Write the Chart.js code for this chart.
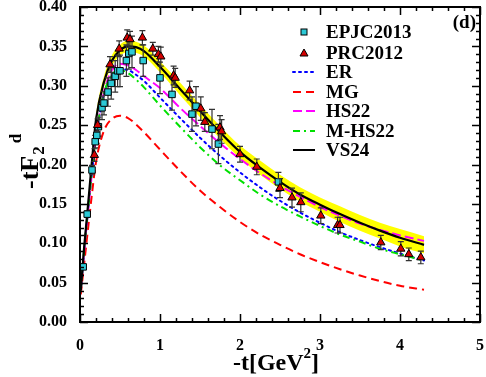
<!DOCTYPE html>
<html>
<head>
<meta charset="utf-8">
<script src="https://cdn.jsdelivr.net/npm/chart.js@4.4.8/dist/chart.umd.min.js"></script>
<style>
  html, body { margin: 0; padding: 0; background: #fff; }
  #chart { display: block; }
</style>
</head>
<body>
<canvas id="chart" width="486" height="377"></canvas>
<script>
const FONT = "'Liberation Serif', 'Times New Roman', serif";

// measured points, EPJC2013
const epjcT   = [0.04, 0.09, 0.15, 0.19, 0.21, 0.23, 0.275, 0.30, 0.35, 0.39, 0.44, 0.47, 0.50, 0.58, 0.61, 0.65, 0.79, 1.00, 1.15, 1.40, 1.45, 1.65, 1.73, 2.48];
const epjcF   = [0.070, 0.137, 0.193, 0.229, 0.237, 0.248, 0.272, 0.278, 0.292, 0.303, 0.312, 0.319, 0.319, 0.332, 0.341, 0.343, 0.332, 0.310, 0.289, 0.264, 0.274, 0.245, 0.226, 0.178];
const epjcErr = [0.003, 0.004, 0.006, 0.008, 0.010, 0.012, 0.015, 0.015, 0.018, 0.020, 0.020, 0.020, 0.020, 0.020, 0.020, 0.020, 0.020, 0.020, 0.020, 0.022, 0.025, 0.025, 0.025, 0.012];

// measured points, PRC2012
const prcT   = [0.18, 0.22, 0.375, 0.49, 0.59, 0.625, 0.78, 0.91, 0.98, 1.01, 1.17, 1.19, 1.37, 1.51, 1.56, 1.75, 1.77, 2.00, 2.21, 2.50, 2.65, 2.76, 3.01, 3.22, 3.25, 3.76, 4.01, 4.11, 4.26];
const prcF   = [0.212, 0.250, 0.327, 0.347, 0.361, 0.359, 0.361, 0.347, 0.340, 0.337, 0.313, 0.310, 0.294, 0.271, 0.254, 0.247, 0.242, 0.213, 0.197, 0.170, 0.158, 0.152, 0.135, 0.123, 0.123, 0.101, 0.093, 0.086, 0.082];
const prcErr = [0.008, 0.008, 0.010, 0.010, 0.010, 0.010, 0.009, 0.008, 0.010, 0.012, 0.012, 0.012, 0.012, 0.015, 0.012, 0.015, 0.015, 0.010, 0.010, 0.012, 0.012, 0.012, 0.010, 0.010, 0.010, 0.009, 0.009, 0.008, 0.008];

// model curves, all on the same t grid
const curveT = [0.01, 0.05, 0.1, 0.15, 0.2, 0.3, 0.4, 0.5, 0.6, 0.7, 0.8, 1.0, 1.25, 1.5, 1.75, 2.0, 2.25, 2.5, 2.75, 3.0, 3.25, 3.5, 3.75, 4.0, 4.3];
const erF    = [0.040, 0.088, 0.140, 0.190, 0.233, 0.290, 0.313, 0.321, 0.320, 0.314, 0.306, 0.285, 0.259, 0.234, 0.211, 0.190, 0.171, 0.154, 0.139, 0.126, 0.114, 0.104, 0.095, 0.087, 0.078];
const mgF    = [0.035, 0.072, 0.118, 0.163, 0.203, 0.243, 0.258, 0.262, 0.259, 0.251, 0.241, 0.219, 0.192, 0.167, 0.146, 0.127, 0.111, 0.098, 0.086, 0.076, 0.067, 0.059, 0.052, 0.046, 0.041];
const hs22F  = [0.040, 0.088, 0.140, 0.190, 0.235, 0.292, 0.320, 0.328, 0.326, 0.320, 0.312, 0.297, 0.272, 0.249, 0.227, 0.207, 0.189, 0.173, 0.159, 0.146, 0.135, 0.125, 0.117, 0.110, 0.103];
const mhs22F = [0.040, 0.090, 0.142, 0.192, 0.236, 0.290, 0.314, 0.320, 0.316, 0.308, 0.298, 0.275, 0.248, 0.222, 0.199, 0.180, 0.162, 0.147, 0.134, 0.122, 0.111, 0.102, 0.093, 0.086, 0.078];
const vs24F  = [0.040, 0.093, 0.148, 0.205, 0.257, 0.305, 0.332, 0.345, 0.350, 0.349, 0.344, 0.324, 0.296, 0.268, 0.241, 0.216, 0.196, 0.178, 0.162, 0.149, 0.137, 0.126, 0.116, 0.107, 0.098];
const vs24Hi = [0.043, 0.097, 0.153, 0.211, 0.263, 0.312, 0.339, 0.352, 0.357, 0.356, 0.351, 0.331, 0.304, 0.276, 0.249, 0.224, 0.205, 0.187, 0.171, 0.158, 0.147, 0.136, 0.126, 0.118, 0.109];
const vs24Lo = [0.037, 0.089, 0.143, 0.199, 0.251, 0.298, 0.325, 0.338, 0.343, 0.342, 0.337, 0.317, 0.288, 0.260, 0.233, 0.208, 0.187, 0.169, 0.153, 0.140, 0.127, 0.116, 0.106, 0.096, 0.087];

const xTicks = [0, 1, 2, 3, 4, 5];
const yTicks = [0, 0.05, 0.10, 0.15, 0.20, 0.25, 0.30, 0.35, 0.40];

function pts(xs, ys) {
  return xs.map((x, i) => ({ x, y: ys[i] }));
}

function curve(label, ys, color, dash, width = 2) {
  return {
    label,
    data: pts(curveT, ys),
    borderColor: color,
    borderWidth: width,
    borderDash: dash,
    pointRadius: 0,
    fill: false,
    cubicInterpolationMode: "monotone",
  };
}

function noOverhang(s) {
  s.paddingLeft = 0;
  s.paddingRight = 0;
  s.paddingTop = 0;
  s.paddingBottom = 0;
}

const CYAN = "#2cc9d6";
const RED_MARK = "#d40000";

const legendRows = [
  { label: "EPJC2013", kind: "rect", color: CYAN },
  { label: "PRC2012", kind: "triangle", color: RED_MARK },
  { label: "ER", kind: "line", color: "#0000ff", dash: [2, 4], cap: "round" },
  { label: "MG", kind: "line", color: "#ff0000", dash: [8, 5] },
  { label: "HS22", kind: "line", color: "#ff00ff", dash: [9, 4] },
  { label: "M-HS22", kind: "line", color: "#00e000", dash: [7, 4, 2, 4] },
  { label: "VS24", kind: "line", color: "#000000", dash: [] },
];

const errorBars = {
  id: "errorBars",
  beforeDatasetDraw(chart, args) {
    const ds = chart.data.datasets[args.index];
    if (!ds.errors) return;
    const { ctx, scales: { x, y } } = chart;
    ctx.save();
    ctx.strokeStyle = "#333";
    ctx.lineWidth = 1.2;
    ds.data.forEach((p, i) => {
      const px = x.getPixelForValue(p.x);
      const top = y.getPixelForValue(p.y + ds.errors[i]);
      const bot = y.getPixelForValue(p.y - ds.errors[i]);
      ctx.beginPath();
      ctx.moveTo(px, top); ctx.lineTo(px, bot);
      ctx.moveTo(px - 3, top); ctx.lineTo(px + 3, top);
      ctx.moveTo(px - 3, bot); ctx.lineTo(px + 3, bot);
      ctx.stroke();
    });
    ctx.restore();
  },
};

const frameAndDecor = {
  id: "frameAndDecor",
  afterDraw(chart) {
    const { ctx, chartArea: a, scales: { x, y } } = chart;
    ctx.save();
    ctx.strokeStyle = "#000";
    ctx.lineWidth = 1.5;

    // inward ticks on all four sides
    ctx.beginPath();
    for (let i = 0; i <= 25; i++) {
      const v = i * 0.2;
      const px = Math.round(x.getPixelForValue(v)) + 0.5;
      const len = i % 5 === 0 ? 8 : 4;
      ctx.moveTo(px, a.bottom); ctx.lineTo(px, a.bottom - len);
      ctx.moveTo(px, a.top); ctx.lineTo(px, a.top + len);
    }
    for (let i = 0; i <= 40; i++) {
      const v = i * 0.01;
      const py = Math.round(y.getPixelForValue(v)) + 0.5;
      const len = i % 5 === 0 ? 8 : 4;
      ctx.moveTo(a.left, py); ctx.lineTo(a.left + len, py);
      ctx.moveTo(a.right, py); ctx.lineTo(a.right - len, py);
    }
    ctx.stroke();

    ctx.lineWidth = 2;
    ctx.strokeRect(a.left, a.top, a.right - a.left, a.bottom - a.top);

    ctx.fillStyle = "#000";
    ctx.textBaseline = "alphabetic";

    // panel tag
    ctx.font = `bold 19px ${FONT}`;
    ctx.textAlign = "right";
    ctx.fillText("(d)", 476, 28);

    // x title
    ctx.textAlign = "left";
    ctx.font = `bold 24px ${FONT}`;
    const xa = "-t[GeV", xb = "]";
    const wa = ctx.measureText(xa).width;
    const wb = ctx.measureText(xb).width;
    ctx.font = `bold 15px ${FONT}`;
    const ws = ctx.measureText("2").width;
    let sx = 276 - (wa + ws + wb) / 2;
    ctx.font = `bold 24px ${FONT}`;
    ctx.fillText(xa, sx, 370);
    ctx.font = `bold 15px ${FONT}`;
    ctx.fillText("2", sx + wa, 358);
    ctx.font = `bold 24px ${FONT}`;
    ctx.fillText(xb, sx + wa + ws, 370);

    // y title, rotated; baseline runs vertically at screen x = 38
    ctx.save();
    ctx.translate(38, 189);
    ctx.rotate(-Math.PI / 2);
    ctx.font = `bold 26px ${FONT}`;
    const m = "-tF";
    const wm = ctx.measureText(m).width;
    ctx.fillText(m, 0, 0);
    ctx.font = `bold 17px ${FONT}`;
    const w2 = ctx.measureText("2").width;
    ctx.fillText("2", wm + 1, 6);
    ctx.fillText("d", wm + w2 + 4, -17);
    ctx.restore();

    // legend
    const symX = 304, lineX0 = 293, lineX1 = 315, textX = 326;
    const rowY = [32, 53, 72, 92, 111, 131, 150];
    ctx.font = `bold 19px ${FONT}`;
    ctx.textBaseline = "middle";
    ctx.textAlign = "left";
    legendRows.forEach((r, i) => {
      const cy = rowY[i];
      ctx.save();
      if (r.kind === "rect") {
        ctx.fillStyle = r.color;
        ctx.strokeStyle = "#000";
        ctx.lineWidth = 1;
        ctx.fillRect(symX - 3, cy - 3, 6, 6);
        ctx.strokeRect(symX - 3, cy - 3, 6, 6);
      } else if (r.kind === "triangle") {
        ctx.fillStyle = r.color;
        ctx.strokeStyle = "#000";
        ctx.lineWidth = 1;
        ctx.beginPath();
        ctx.moveTo(symX, cy - 4);
        ctx.lineTo(symX + 4, cy + 3);
        ctx.lineTo(symX - 4, cy + 3);
        ctx.closePath();
        ctx.fill();
        ctx.stroke();
      } else {
        ctx.strokeStyle = r.color;
        ctx.lineWidth = 2;
        ctx.lineCap = r.cap || "butt";
        ctx.setLineDash(r.dash);
        ctx.beginPath();
        ctx.moveTo(lineX0, cy);
        ctx.lineTo(lineX1, cy);
        ctx.stroke();
      }
      ctx.restore();
      ctx.fillStyle = "#000";
      ctx.fillText(r.label, textX, cy + 1);
    });

    ctx.restore();
  },
};

new Chart(document.getElementById("chart"), {
  type: "line",
  data: {
    datasets: [
      {
        label: "PRC2012",
        data: pts(prcT, prcF),
        errors: prcErr,
        showLine: false,
        pointStyle: "triangle",
        pointRadius: 4.8,
        pointBackgroundColor: RED_MARK,
        pointBorderColor: "#000",
        pointBorderWidth: 1,
      },
      {
        label: "EPJC2013",
        data: pts(epjcT, epjcF),
        errors: epjcErr,
        showLine: false,
        pointStyle: "rect",
        pointRadius: 4.6,
        pointBackgroundColor: CYAN,
        pointBorderColor: "#000",
        pointBorderWidth: 1,
      },
      curve("VS24", vs24F, "#000000", [], 2.2),
      curve("M-HS22", mhs22F, "#00e000", [7, 4, 2, 4]),
      curve("HS22", hs22F, "#ff00ff", [9, 4]),
      curve("MG", mgF, "#ff0000", [8, 5]),
      Object.assign(curve("ER", erF, "#0000ff", [2, 4]), { borderCapStyle: "round" }),
      {
        label: "VS24 band upper",
        data: pts(curveT, vs24Hi),
        borderWidth: 0,
        borderColor: "rgba(0,0,0,0)",
        pointRadius: 0,
        backgroundColor: "#ffff00",
        fill: "+1",
        cubicInterpolationMode: "monotone",
      },
      {
        label: "VS24 band lower",
        data: pts(curveT, vs24Lo),
        borderWidth: 0,
        borderColor: "rgba(0,0,0,0)",
        pointRadius: 0,
        fill: false,
        cubicInterpolationMode: "monotone",
      },
    ],
  },
  options: {
    responsive: false,
    animation: false,
    events: [],
    layout: { padding: { top: 7, right: 6, left: 0, bottom: 0 }, autoPadding: false },
    plugins: {
      legend: { display: false },
      tooltip: { enabled: false },
    },
    scales: {
      x: {
        type: "linear",
        min: 0,
        max: 5,
        grid: { display: false },
        border: { display: false },
        afterBuildTicks(s) { s.ticks = xTicks.map((v) => ({ value: v })); },
        afterFit(s) { s.height = 55; noOverhang(s); },
        ticks: {
          color: "#000",
          padding: 6,
          maxRotation: 0,
          font: { family: FONT, size: 16, weight: "bold" },
          callback: (v) => String(v),
        },
      },
      y: {
        type: "linear",
        min: 0,
        max: 0.4,
        grid: { display: false },
        border: { display: false },
        afterBuildTicks(s) { s.ticks = yTicks.map((v) => ({ value: v })); },
        afterFit(s) { s.width = 80; noOverhang(s); },
        ticks: {
          color: "#000",
          padding: 5,
          font: { family: FONT, size: 16, weight: "bold" },
          callback: (v) => Number(v).toFixed(2),
        },
      },
    },
  },
  plugins: [errorBars, frameAndDecor],
});
</script>
</body>
</html>
